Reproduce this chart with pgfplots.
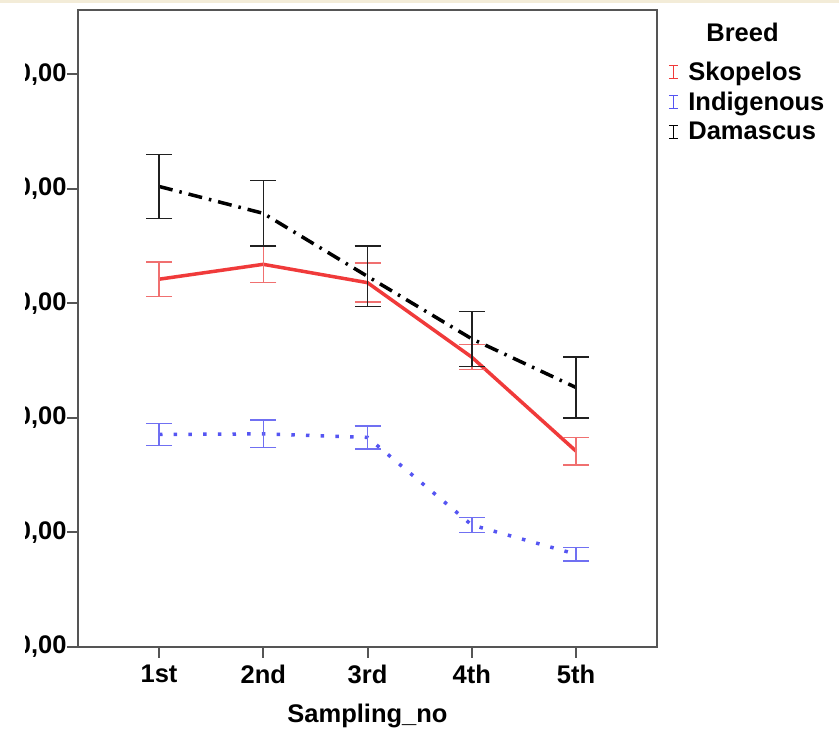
\documentclass[border=0pt]{standalone}
\usepackage{pgfplots}
\pgfplotsset{compat=1.18}
\usepackage{fontspec}
\setmainfont{Liberation Sans}
\definecolor{skred}{HTML}{F03A3A}
\definecolor{skredlight}{HTML}{F07070}
\definecolor{inblue}{HTML}{5555F2}
\definecolor{inbluelight}{HTML}{7070F2}
\definecolor{dagray}{HTML}{202020}
\definecolor{framegray}{HTML}{555555}
\definecolor{beige}{HTML}{F3ECD8}
\newcommand{\lbl}{\fontsize{25.5}{30}\selectfont\bfseries}
\begin{document}
\begin{tikzpicture}
\useasboundingbox (0,0) rectangle (839pt,730pt);
\fill[beige] (0,727pt) rectangle (839pt,730pt);
\begin{scope}
\clip (25pt,0) rectangle (839pt,727pt);
\begin{axis}[
  at={(78pt,83pt)}, anchor=south west,
  scale only axis, width=579pt, height=637pt,
  xmin=0.223, xmax=5.777, ymin=0, ymax=55.6,
  xtick={1,2,3,4,5}, xticklabels={1st,2nd,3rd,4th,5th},
  ytick={0,10,20,30,40,50},
  yticklabels={{0,00},{10,00},{20,00},{30,00},{40,00},{50,00}},
  tick align=outside, xtick pos=bottom, ytick pos=left,
  major tick length=11pt,
  axis line style={framegray, line width=2pt},
  every tick/.style={framegray, line width=2pt},
  ticklabel style={font=\lbl, text=black},
  xticklabel style={yshift=-3pt},
  yticklabel style={xshift=3pt},
  xlabel={Sampling\_no},
  xlabel style={font=\lbl, anchor=base, at={(axis description cs:0.5,0)}, yshift=-76pt},
  legend style={at={(1,1)}, anchor=north west, xshift=11pt, yshift=-50pt,
    draw=none, fill=none, font=\lbl, inner sep=0pt, row sep=6pt,
    /tikz/every odd column/.append style={column sep=8pt}},
  legend cell align=left,
  legend image code/.code={\draw[#1, solid, line width=1.2pt] (0pt,-6.5pt)--(0pt,6.5pt) (-4.5pt,-6.5pt)--(4.5pt,-6.5pt) (-4.5pt,6.5pt)--(4.5pt,6.5pt);},
  clip=false,
]
\addplot[skred, line width=3.5pt,
  error bars/.cd, y dir=both, y explicit,
  error bar style={skredlight, line width=1.5pt, solid},
  error mark options={skredlight, line width=1.5pt, mark size=13pt, solid, rotate=90}]
  coordinates {
  (1,32.1) +- (0,1.5)
  (2,33.4) +- (0,1.6)
  (3,31.8) +- (0,1.7)
  (4,25.3) +- (0,1.1)
  (5,17.1) +- (0,1.2)
  };
\addlegendentry{Skopelos}
\addplot[inblue, line width=3.5pt, line cap=butt, dash pattern=on 3.5pt off 11.2pt,
  error bars/.cd, y dir=both, y explicit,
  error bar style={inbluelight, line width=1.5pt, solid},
  error mark options={inbluelight, line width=1.5pt, mark size=13pt, solid, rotate=90}]
  coordinates {
  (1,18.55) +- (0,0.95)
  (2,18.6) +- (0,1.2)
  (3,18.3) +- (0,1.0)
  (4,10.65) +- (0,0.65)
  (5,8.1) +- (0,0.6)
  };
\addlegendentry{Indigenous}
\addplot[black, line width=3.5pt, dash pattern=on 14pt off 7pt on 2.5pt off 7pt,
  error bars/.cd, y dir=both, y explicit,
  error bar style={dagray, line width=1.5pt, solid},
  error mark options={dagray, line width=1.5pt, mark size=13pt, solid, rotate=90}]
  coordinates {
  (1,40.2) +- (0,2.8)
  (2,37.85) +- (0,2.85)
  (3,32.35) +- (0,2.65)
  (4,26.9) +- (0,2.4)
  (5,22.65) +- (0,2.65)
  };
\addlegendentry{Damascus}
\end{axis}
\end{scope}
\node[anchor=base, font=\lbl] at (742.5pt,688pt) {Breed};
\end{tikzpicture}
\end{document}
